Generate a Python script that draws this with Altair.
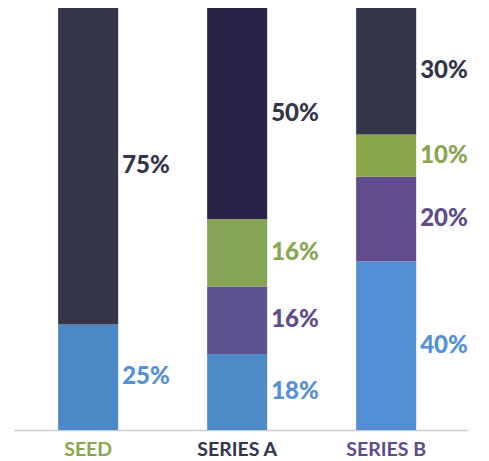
import altair as alt
import pandas as pd

categories = ["SEED", "SERIES A", "SERIES B"]
cat_colors = ["#88a54f", "#33344a", "#5e4a8c"]

row_cat = ["SEED", "SEED",
           "SERIES A", "SERIES A", "SERIES A", "SERIES A",
           "SERIES B", "SERIES B", "SERIES B", "SERIES B"]
row_order = [1, 4, 1, 2, 3, 4, 1, 2, 3, 4]
row_value = [25, 75, 18, 16, 16, 50, 40, 20, 10, 30]
row_fill = ["#4d89c7", "#343548",
            "#4e89c8", "#5e5390", "#87a557", "#2a2347",
            "#548fd6", "#604b8b", "#8aa54c", "#343548"]
row_text = ["#5590d6", "#33344a",
            "#5590d6", "#5e4a8c", "#88a54f", "#33344a",
            "#5590d6", "#5e4a8c", "#88a54f", "#33344a"]

df = pd.DataFrame({
    "cat": row_cat,
    "order": row_order,
    "value": row_value,
    "fill": row_fill,
    "tcolor": row_text,
})
df["label"] = df["value"].astype(str) + "%"

xscale = alt.Scale(domain=categories, paddingInner=0.597, paddingOuter=0.322, align=0.46)
yscale = alt.Scale(domain=[0, 100], nice=False, zero=True)

base = alt.Chart(df).transform_stack(
    stack="value", groupby=["cat"], as_=["y0", "y1"], sort=[alt.SortField("order")]
).transform_calculate(mid="(datum.y0 + datum.y1) / 2")

bars = base.mark_bar().encode(
    x=alt.X("cat:N", scale=xscale, sort=categories, title=None,
            axis=alt.Axis(labelAngle=0, domainColor="#cccccc", domainWidth=1.5, ticks=False,
                          labelFont="Lato", labelFontSize=19.5, labelFontWeight="bold",
                          labelPadding=10,
                          labelColor=alt.expr("datum.value == 'SEED' ? '#88a54f' : datum.value == 'SERIES A' ? '#33344a' : '#5e4a8c'"))),
    y=alt.Y("y0:Q", scale=yscale, axis=None),
    y2="y1:Q",
    color=alt.Color("fill:N", scale=None),
)

texts = base.mark_text(align="left", baseline="middle", dx=4, font="Lato",
                       fontSize=24, fontWeight=900).encode(
    x=alt.X("cat:N", scale=xscale, sort=categories, bandPosition=1),
    y=alt.Y("mid:Q", scale=yscale),
    text="label:N",
    color=alt.Color("tcolor:N", scale=None),
)

chart = alt.layer(bars, texts).properties(
    width=454, height=422,
    padding={"left": 6, "top": 0, "right": 5, "bottom": 5},
).configure_view(stroke=None)

chart.save("out.html", embed_options={"renderer": "svg", "actions": False})
